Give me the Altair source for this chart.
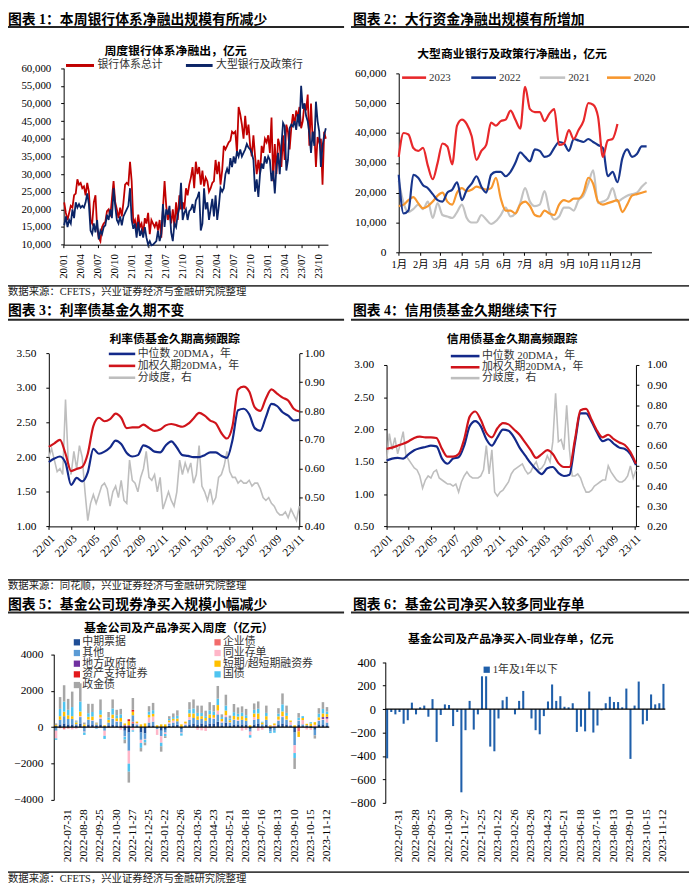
import altair as alt
import pandas as pd

FONT = "Liberation Serif, Noto Sans CJK SC"
W, H = 692, 882          # whole drawing area (svg px)


def sx(r):               # reference-page x -> drawing x
    return r - 3


def sy(r):               # reference-page y -> drawing y
    return r - 3


# ---------------- Panel 1: 周度银行体系净融出（亿元） ----------------
P1_START = "2020-01-04"
P1_TOTAL = [
    22000, 19000, 17000, 19000, 21000, 20500, 24000, 24500, 28500, 27000,
    27500, 26000, 26500, 24000, 27500, 25000, 17000, 16000, 22000, 24000,
    15000, 12000, 11000, 15000, 16000, 16500, 19500, 20000, 18000, 23000,
    28000, 22000, 20000, 17500, 20500, 18000, 22000, 27000, 27500, 27000,
    33500, 28000, 16000, 17000, 14000, 18500, 15000, 16000, 13000, 17500,
    16000, 19000, 13000, 17000, 16000, 15000, 16500, 14000, 17000, 12000,
    20000, 28000, 21000, 17000, 19500, 16000, 20000, 15000, 22000, 17000,
    24000, 20000, 22000, 20000, 26000, 24000, 27000, 29000, 32000, 26000,
    33500, 30000, 32000, 27000, 31000, 26500, 29000, 28000, 25000, 26000,
    27500, 28000, 34000, 30000, 33500, 27000, 31000, 38000, 37000, 38000,
    39000, 39500, 42000, 41500, 42000, 36000, 49000, 47000, 44000, 40000,
    46500, 41000, 44000, 38000, 35000, 41000, 35000, 30000, 34000, 30000,
    38000, 36000, 40000, 39000, 41000, 36000, 46000, 28000, 38500, 30000,
    40000, 38000, 32000, 41000, 34000, 44000, 42000, 37000, 43000, 47000,
    44000, 48000, 46000, 49000, 43000, 45000, 50000, 48000, 52500, 38000,
    50000, 40000, 42000, 32000, 40500, 39000, 40000, 27000, 42000, 40000,
]
P1_BIG = [
    15500, 18000, 15000, 17000, 16000, 20000, 17500, 22000, 20500, 21500,
    20500, 21000, 20500, 22000, 24500, 21500, 14000, 13000, 16000, 13500,
    17000, 11500, 14000, 13000, 15000, 15500, 18500, 17000, 20000, 17500,
    26000, 21000, 17000, 16000, 18000, 15500, 18000, 19000, 20000, 21000,
    26000, 17000, 14500, 16000, 12000, 16500, 12500, 14000, 12000, 15000,
    12000, 10000, 11000, 9800, 10000, 10500, 11000, 14000, 11000, 13000,
    21500, 15000, 20000, 18500, 21000, 13500, 11000, 16000, 15000, 18500,
    20500, 27500, 17000, 19000, 20000, 17000, 19500, 20000, 21500, 19000,
    22500, 23500, 25000, 14000, 16000, 26000, 20000, 22000, 17000, 20000,
    23000, 18000, 24000, 17000, 21000, 26000, 25000, 26000, 30000, 31500,
    30000, 34500, 32000, 35000, 33000, 36500, 35000, 37000, 35000, 36000,
    37000, 38500, 37500, 37000, 36000, 34000, 25000, 28500, 23500, 30000,
    33000, 31500, 35000, 33000, 35000, 34000, 28000, 31000, 24500, 32000,
    36000, 30000, 38000, 44500, 43500, 31000, 34000, 43000, 44000, 43500,
    45000, 42500, 47000, 43500, 55000, 48500, 50000, 46500, 45000, 41500,
    36000, 42000, 38000, 50500, 45000, 42000, 32000, 38000, 41000, 43000,
]
P1_NAMES = ["银行体系总计", "大型银行及政策行"]
P1_COLORS = ["#C00000", "#0B2466"]

# ---------------- Panel 2: 大型商业银行及政策行净融出 (weekly by year) ----------------
P2_2023 = [32000, 40000, 39500, 35000, 34000, 35000, 29000, 24500, 30000, 36500,
           35500, 29500, 42500, 44500, 43000, 39000, 31000, 34000, 36000, 43500,
           42500, 44000, 44500, 47500, 44500, 41500, 55500, 48000, 47000, 47000,
           44000, 46500, 48000, 36000, 36500, 41000, 38000, 41000, 44000, 50000,
           49500, 45500, 32000, 37500, 38000, 43000]
P2_2022 = [26000, 13000, 14000, 26000, 25000, 22500, 21500, 19500, 17500, 17000,
           20000, 21000, 23500, 17500, 21000, 23000, 25500, 22000, 20000, 26000,
           27000, 27000, 25500, 27000, 30000, 33500, 32000, 30500, 34500, 34000,
           32000, 32500, 35000, 37000, 36500, 34000, 38000, 37500, 37000, 38000,
           37000, 36000, 35000, 25500, 27000, 23500, 31500, 34500, 32000, 33000,
           35500, 35500]
P2_2021 = [24000, 16500, 13500, 14500, 16000, 14500, 17000, 11500, 16500, 12500,
           12000, 11500, 13500, 16000, 11500, 10000, 10000, 12500, 11000, 9500,
           10500, 12500, 15000, 12000, 13000, 16500, 21500, 17000, 15500, 16000,
           20500, 14000, 11000, 12000, 15000, 15000, 14000, 17500, 19000, 23000,
           27500, 16500, 17000, 18000, 21500, 17000, 18000, 19000, 19500, 20000,
           22000, 23500]
P2_2020 = [15500, 16000, 17500, 18500, 16500, 14800, 15500, 17000, 19000, 20000,
           17000, 16000, 20000, 21500, 20500, 21000, 22000, 21500, 21000, 21500,
           25000, 18000, 14000, 14000, 13000, 16000, 17000, 15500, 12500, 12000,
           14000, 13000, 12500, 16000, 17500, 17000, 18000, 18000, 20000, 25000,
           23000, 17000, 16000, 16500, 17000, 17500, 13500, 16000, 19000, 19500,
           20000, 20500]
P2_NAMES = ["2023", "2022", "2021", "2020"]
P2_COLORS = ["#E8282B", "#17358C", "#C3C3C3", "#F7972E"]

# ---------------- Panels 3 & 4: 基金久期高频跟踪 ----------------
DUR_NAMES = ["中位数 20DMA，年", "加权久期20DMA，年", "分歧度，右"]
DUR_COLORS = ["#13298A", "#D0141B", "#BEBEBE"]
P3_MED = [1.93, 1.98, 2.01, 1.92, 1.60, 1.70, 1.65, 1.78, 2.12, 2.05,
          2.08, 2.14, 2.24, 2.19, 2.06, 2.01, 2.03, 2.17, 2.14, 2.08,
          2.07, 2.17, 2.23, 2.14, 2.03, 2.02, 2.00, 2.00, 2.03, 2.07,
          2.07, 2.02, 1.99, 2.25, 2.68, 2.70, 2.62, 2.42, 2.38, 2.58,
          2.77, 2.74, 2.65, 2.60, 2.53, 2.54]
P3_WTD = [2.15, 2.20, 2.25, 2.05, 1.80, 1.83, 1.86, 2.05, 2.45, 2.57,
          2.52, 2.55, 2.63, 2.57, 2.42, 2.43, 2.43, 2.47, 2.42, 2.38,
          2.40, 2.46, 2.48, 2.46, 2.44, 2.48, 2.56, 2.64, 2.60, 2.53,
          2.49, 2.35, 2.27, 2.45, 2.98, 3.02, 2.95, 2.72, 2.67, 2.85,
          2.98, 2.92, 2.86, 2.82, 2.70, 2.66]
P3_DIV = [0.64, 0.67, 0.63, 0.59, 0.60, 0.58, 0.84, 0.62, 0.58, 0.66,
          0.60, 0.68, 0.64, 0.52, 0.42, 0.48, 0.51, 0.48, 0.51, 0.54,
          0.55, 0.53, 0.47, 0.52, 0.54, 0.50, 0.56, 0.49, 0.48, 0.63,
          0.56, 0.55, 0.52, 0.57, 0.60, 0.66, 0.57, 0.56, 0.58, 0.52,
          0.57, 0.46, 0.49, 0.52, 0.49, 0.47, 0.52, 0.63, 0.58, 0.62,
          0.59, 0.62, 0.55, 0.58, 0.68, 0.54, 0.52, 0.49, 0.53, 0.48,
          0.50, 0.57, 0.58, 0.61, 0.66, 0.59, 0.57, 0.57, 0.55, 0.56,
          0.55, 0.55, 0.56, 0.54, 0.55, 0.55, 0.53, 0.50, 0.49, 0.50,
          0.48, 0.47, 0.45, 0.44, 0.44, 0.45, 0.43, 0.46, 0.44, 0.42,
          0.47]
P4_MED = [1.52, 1.55, 1.56, 1.55, 1.62, 1.68, 1.71, 1.73, 1.75, 1.74,
          1.55, 1.47, 1.55, 1.57, 1.75, 2.05, 2.13, 2.05, 1.85, 1.75,
          1.88, 2.00, 1.98, 1.88, 1.72, 1.60, 1.48, 1.38, 1.31, 1.40,
          1.42, 1.33, 1.28, 1.30, 1.80, 2.25, 2.25, 2.12, 1.95, 1.82,
          1.85, 1.78, 1.72, 1.70, 1.62, 1.45]
P4_WTD = [1.70, 1.72, 1.75, 1.78, 1.82, 1.87, 1.89, 1.88, 1.88, 1.87,
          1.70, 1.58, 1.58, 1.62, 1.85, 2.20, 2.28, 2.15, 1.95, 1.88,
          2.02, 2.10, 2.08, 2.00, 1.92, 1.80, 1.68, 1.56, 1.62, 1.68,
          1.62, 1.48, 1.42, 1.42, 1.85, 2.30, 2.32, 2.15, 1.98, 1.88,
          1.92, 1.85, 1.80, 1.76, 1.65, 1.47]
P4_DIV = [0.52, 0.66, 0.58, 0.64, 0.56, 0.61, 0.67, 0.55, 0.53, 0.51,
          0.49, 0.48, 0.45, 0.39, 0.43, 0.45, 0.44, 0.47, 0.48, 0.44,
          0.43, 0.42, 0.41, 0.41, 0.40, 0.41, 0.37, 0.42, 0.45, 0.47,
          0.45, 0.44, 0.44, 0.44, 0.45, 0.48, 0.60, 0.46, 0.58, 0.37,
          0.35, 0.37, 0.38, 0.40, 0.42, 0.46, 0.48, 0.49, 0.50, 0.51,
          0.48, 0.46, 0.47, 0.50, 0.52, 0.48, 0.49, 0.51, 0.55, 0.52,
          0.62, 0.86, 0.62, 0.63, 0.58, 0.80, 0.58, 0.45, 0.45, 0.46,
          0.44, 0.40, 0.37, 0.37, 0.38, 0.40, 0.41, 0.42, 0.43, 0.43,
          0.50, 0.47, 0.45, 0.43, 0.42, 0.42, 0.43, 0.45, 0.50, 0.44,
          0.48]

# ---------------- Panels 5 & 6: 基金公司及产品净买入（周度，亿元） ----------------
WEEKS = [
    "2022-07-10", "2022-07-17", "2022-07-24", "2022-07-31", "2022-08-07", "2022-08-14", "2022-08-21", "2022-08-28",
    "2022-09-04", "2022-09-11", "2022-09-18", "2022-09-25", "2022-10-09", "2022-10-16", "2022-10-23", "2022-10-30",
    "2022-11-06", "2022-11-13", "2022-11-20", "2022-11-27", "2022-12-04", "2022-12-11", "2022-12-18", "2022-12-25",
    "2023-01-01", "2023-01-08", "2023-01-15", "2023-01-22", "2023-02-05", "2023-02-12", "2023-02-19", "2023-02-26",
    "2023-03-05", "2023-03-12", "2023-03-19", "2023-03-26", "2023-04-02", "2023-04-09", "2023-04-16", "2023-04-23",
    "2023-04-30", "2023-05-07", "2023-05-14", "2023-05-21", "2023-05-28", "2023-06-04", "2023-06-11", "2023-06-18",
    "2023-06-25", "2023-07-02", "2023-07-09", "2023-07-16", "2023-07-23", "2023-07-30", "2023-08-06", "2023-08-13",
    "2023-08-20", "2023-08-27", "2023-09-03", "2023-09-10", "2023-09-17", "2023-09-24", "2023-10-08", "2023-10-15",
    "2023-10-22", "2023-10-29", "2023-11-05", "2023-11-12",
]
WEEK_LABELS = ["2022-07-31", "2022-08-28", "2022-09-25", "2022-10-30", "2022-11-27", "2022-12-25",
               "2023-01-22", "2023-02-26", "2023-03-26", "2023-04-23", "2023-05-21", "2023-06-18",
               "2023-07-16", "2023-08-13", "2023-09-10", "2023-10-15", "2023-11-12"]
P5_MTN = [50, 150, 200, 150, 150, 100, 200, 50, 150, 150,
          100, 150, 50, 100, 150, 100, 100, -200, -300, 200,
          50, -300, -350, 100, 100, 0, -200, -150, 80, 100,
          120, -100, 50, 150, 200, 150, 200, 150, 200, 200,
          300, 100, 250, 100, 150, 150, 150, 150, -100, 150,
          200, 50, 150, -100, 0, 150, 200, 150, 50, -300,
          150, 50, 50, 50, -150, 150, 150, 100]
P5_CORP = [0, -50, -100, -75, 0, 0, 0, 0, 0, 0,
           0, 0, 0, 0, 0, 0, 0, 0, 0, 100,
           0, 0, 0, 0, 0, 0, 0, 0, 0, 0,
           0, 0, 0, 0, 0, -70, 0, 0, 0, 0,
           0, 0, 0, 0, 0, 0, 0, 0, 0, 0,
           0, 0, 0, 0, 0, 0, 0, 0, 0, 0,
           -240, 0, 0, 0, 0, 0, 0, 0]
P5_OTHER = [-200, 250, 400, 300, 300, 60, 350, -250, 250, 200,
            50, 300, -200, 150, 300, 200, 200, -300, -1000, 350,
            100, -400, -300, 150, 200, -110, -300, -150, 120, 150,
            200, -200, 80, 250, 300, 250, 250, 200, 300, 250,
            400, 150, 300, 150, 250, 200, 250, 200, -150, 250,
            250, 100, 250, -150, -200, 200, 350, 250, 60, -700,
            200, 100, 50, -50, -300, 200, 250, 150]
P5_LGB = [0, 0, 0, 0, 0, 0, 0, 0, 0, 0,
          0, 0, 0, 0, 0, 0, 0, 100, 100, 0,
          0, 0, 0, 0, 0, 0, 0, 0, 0, 0,
          0, 0, 0, 0, 0, 0, 0, 0, 0, 0,
          0, 0, 0, 0, 0, 0, 0, 0, 0, 0,
          0, 0, 0, 0, 0, 0, 0, 0, 0, 0,
          0, 0, 0, 0, 0, 0, 100, 100]
P5_CP = [60, 200, 250, 200, 150, 100, 250, 100, 150, 200,
         50, 150, 50, 150, 200, 150, 200, 100, 230, 200,
         80, 150, 200, 150, 150, 100, 150, 150, 100, 100,
         150, 150, 100, 200, 250, 200, 150, 150, 200, 150,
         300, 130, 250, 110, 200, 180, 200, 150, 100, 200,
         300, 100, 200, 50, 95, 180, 250, 200, 75, 100,
         -300, 115, 80, 150, 145, 150, 200, 150]
P5_ABS = [0, 0, 0, 0, 0, 0, 0, 0, 0, 0,
          0, 0, 0, 0, 0, 0, 0, 0, 100, 100,
          0, 0, 0, 0, 0, 0, 0, 0, 0, 0,
          0, 0, 0, 0, 0, 0, 0, 0, 0, 0,
          0, 0, 0, 0, 0, 0, 0, 0, 0, 0,
          0, 0, 0, 0, 0, 0, 0, 0, 0, 0,
          0, 0, 0, 0, 0, 0, 0, 0]
P5_TB = [-80, 400, 550, 300, 500, 50, 550, -135, 200, 250,
         -35, 250, -170, 130, 330, 165, 200, -165, -440, -70,
         0, -265, -155, 170, 200, 0, -190, -120, 75, 95,
         150, -125, 0, 215, 270, 180, 180, 100, 220, 195,
         350, 100, 270, 100, 205, 150, 190, 150, -140, 200,
         260, 50, 180, -80, -110, 150, 390, 165, 0, -275,
         140, 100, 0, 70, 0, 200, 250, 135]
P5_PB = [90, 650, 900, 600, 850, 50, 1000, 100, 515, 450,
         50, 585, 0, 300, 500, 300, 300, -200, -600, 650,
         0, -200, -150, 300, 400, 0, -300, -100, 150, 200,
         300, 0, 0, 400, 500, 400, 400, 300, 450, 350,
         700, 150, 600, 150, 450, 350, 350, 350, 0, 350,
         400, 0, 400, 0, 0, 300, 600, 400, 0, -600,
         250, 0, 0, 0, -180, 300, 370, 250]
# 同业存单（1年及1年以下）
P6_CD = [-420, -25, -45, -25, -125, -95, 55, -45, 15, 30,
         -65, 85, -280, -50, 40, 35, -145, -25, -710, -180,
         70, -175, -45, 280, 280, -320, -360, -80, 75, 105,
         0, -45, 70, 155, 0, -80, -180, -215, -60, 65,
         210, 70, 110, 20, 15, 50, -195, -150, -190, 150,
         -200, -140, -10, 50, 105, 60, 60, 15, 175, -425,
         30, 235, -130, -100, 125, 40, 50, 215]
P5_CATS = ["中期票据", "企业债", "其他", "同业存单", "地方政府债", "短期/超短期融资券", "资产支持证券", "国债", "政金债"]
P5_COLORS = ["#1F4E96", "#F26B6B", "#5B9BD5", "#FFB6C8", "#7030A0", "#FFC000", "#E31A1C", "#4FC4F0", "#A6A6A6"]
P6_NAME = "1年及1年以下"
P6_COLOR = "#1F5FAA"

HEADERS = ["图表 1：本周银行体系净融出规模有所减少", "图表 2：大行资金净融出规模有所增加",
           "图表 3：利率债基金久期不变", "图表 4：信用债基金久期继续下行",
           "图表 5：基金公司现券净买入规模小幅减少", "图表 6：基金公司净买入较多同业存单"]
TITLES = ["周度银行体系净融出，亿元", "大型商业银行及政策行净融出，亿元",
          "利率债基金久期高频跟踪", "信用债基金久期高频跟踪",
          "基金公司及产品净买入周度（亿元）", "基金公司及产品净买入-同业存单，亿元"]
NOTES = ["数据来源：CFETS，兴业证券经济与金融研究院整理",
         "数据来源：同花顺，兴业证券经济与金融研究院整理",
         "数据来源：CFETS，兴业证券经济与金融研究院整理"]

# ---------------- helpers ----------------
ONE = pd.DataFrame({"k": [0]})


def T(s, x, y, size=11, bold=False, align="left", color="#000"):
    return alt.Chart(ONE).mark_text(
        text=s, align=align, baseline="middle", font=FONT, fontSize=size,
        fontWeight="bold" if bold else "normal", color=color,
    ).encode(x=alt.value(sx(x)), y=alt.value(sy(y)))


def R(x1, x2, y, color="#262626", w=2.0):
    return alt.Chart(ONE).mark_rule(color=color, strokeWidth=w).encode(
        x=alt.value(sx(x1)), x2=alt.value(sx(x2)), y=alt.value(sy(y)))


def SQ(x, y, color):
    return alt.Chart(ONE).mark_square(size=40, color=color, opacity=1).encode(
        x=alt.value(sx(x)), y=alt.value(sy(y)))


def dt(y, m, d=1):
    return alt.DateTime(year=y, month=m, date=d)


def ax_bottom(ref_y, **kw):
    return alt.Axis(orient="bottom", offset=sy(ref_y) - H, labelOverlap=False, labelFlush=False, **kw)


def ax_left(ref_x, **kw):
    return alt.Axis(orient="left", offset=-sx(ref_x), labelOverlap=False, **kw)


def ax_right(ref_x, **kw):
    return alt.Axis(orient="right", offset=sx(ref_x) - W, labelOverlap=False, **kw)


def tstr(idx):
    return idx.strftime("%Y-%m-%dT%H:%M:%S")


# ---------------- Panel 1 ----------------
q_vals = [dt(y, m) for y in (2020, 2021, 2022, 2023) for m in (1, 4, 7, 10)]
x1 = alt.X("date:T", title=None,
           scale=alt.Scale(domain=[dt(2020, 1), dt(2023, 11, 20)], range=[sx(59.3), sx(326.7)], nice=False),
           axis=ax_bottom(237.3, values=q_vals, format="%y/%m", labelAngle=270, labelPadding=6, labelFontSize=11))
y1 = alt.Y("v:Q", title=None,
           scale=alt.Scale(domain=[10000, 60000], range=[sy(237.3), sy(58.7)], nice=False),
           axis=ax_left(59.3, values=list(range(10000, 60001, 5000)), format=",.0f", labelPadding=10, labelFontSize=11))
lines1 = []
for vals, col in zip([P1_TOTAL, P1_BIG], P1_COLORS):
    d = pd.DataFrame({"date": tstr(pd.date_range(P1_START, periods=len(vals), freq="212h")), "v": vals})
    lines1.append(alt.Chart(d).mark_line(color=col, strokeWidth=1.8).encode(x=x1, y=y1))
p1 = alt.layer(*lines1)

# ---------------- Panel 2 ----------------
x2 = alt.X("date:T", title=None,
           scale=alt.Scale(domain=[dt(2001, 1), dt(2001, 12, 31)], range=[sx(398.3), sx(654)], nice=False),
           axis=ax_bottom(245, values=[dt(2001, m) for m in range(1, 13)], format="%-m月", labelAngle=0,
                          labelPadding=4, labelFontSize=10.5))
y2 = alt.Y("v:Q", title=None,
           scale=alt.Scale(domain=[0, 60000], range=[sy(245), sy(64)], nice=False),
           axis=ax_left(398.3, values=list(range(0, 60001, 10000)), format=",.0f", labelPadding=10, labelFontSize=11.5))
year_data = {"2023": P2_2023, "2022": P2_2022, "2021": P2_2021, "2020": P2_2020}
lines2 = []
for name in ["2021", "2020", "2022", "2023"]:
    vals = year_data[name]
    d = pd.DataFrame({"date": tstr(pd.date_range("2001-01-01", periods=len(vals), freq="7D")), "v": vals})
    lines2.append(alt.Chart(d).mark_line(color=P2_COLORS[P2_NAMES.index(name)], strokeWidth=2.2,
                                         interpolate="monotone").encode(x=x2, y=y2))
p2 = alt.layer(*lines2)


# ---------------- Panels 3 & 4 ----------------
def dur_panel(med, wtd, div, x0, x1_, ytop, ybot, ylo, yhi, rlo, rhi, rpad):
    end = "2023-11-04"
    t = tstr(pd.date_range("2022-01-01", end, periods=len(med)))
    tg = tstr(pd.date_range("2022-01-01", end, periods=len(div)))
    xv = [dt(y, m) for y, m in [(2022, 1), (2022, 3), (2022, 5), (2022, 7), (2022, 9), (2022, 11),
                                 (2023, 1), (2023, 3), (2023, 5), (2023, 7), (2023, 9), (2023, 11)]]
    x = alt.X("date:T", title=None,
              scale=alt.Scale(domain=[dt(2022, 1), dt(2023, 11, 4)], range=[sx(x0), sx(x1_)], nice=False),
              axis=ax_bottom(ybot, values=xv, format="%y/%m", labelAngle=315, labelPadding=3, labelFontSize=11.5))
    ticks_l = [round(ylo + 0.5 * k, 2) for k in range(int(round((yhi - ylo) / 0.5)) + 1)]
    ticks_r = [round(rlo + 0.1 * k, 2) for k in range(int(round((rhi - rlo) / 0.1)) + 1)]
    yl = alt.Y("v:Q", title=None, scale=alt.Scale(domain=[ylo, yhi], range=[sy(ybot), sy(ytop)], nice=False),
               axis=ax_left(x0, values=ticks_l, format=".2f", labelPadding=10, labelFontSize=11.5))
    yr = alt.Y("v:Q", title=None, scale=alt.Scale(domain=[rlo, rhi], range=[sy(ybot), sy(ytop)], nice=False),
               axis=ax_right(x1_, values=ticks_r, format=".2f", labelPadding=rpad, labelFontSize=11.5))
    gray = alt.Chart(pd.DataFrame({"date": tg, "v": div})).mark_line(
        color=DUR_COLORS[2], strokeWidth=1.6).encode(x=x, y=yr)
    m1 = alt.Chart(pd.DataFrame({"date": t, "v": med})).mark_line(
        color=DUR_COLORS[0], strokeWidth=2.2, interpolate="monotone").encode(x=x, y=yl)
    m2 = alt.Chart(pd.DataFrame({"date": t, "v": wtd})).mark_line(
        color=DUR_COLORS[1], strokeWidth=2.2, interpolate="monotone").encode(x=x, y=yl)
    return alt.layer(gray, alt.layer(m1, m2)).resolve_scale(y="independent")


p3 = dur_panel(P3_MED, P3_WTD, P3_DIV, 44.3, 297.7, 347.3, 522.3, 1.0, 3.5, 0.4, 1.0, 2)
p4 = dur_panel(P4_MED, P4_WTD, P4_DIV, 386, 638.3, 359, 522.3, 0.5, 3.0, 0.2, 1.0, 8)

# ---------------- Panel 5 ----------------
series5 = [P5_MTN, P5_CORP, P5_OTHER, P6_CD, P5_LGB, P5_CP, P5_ABS, P5_TB, P5_PB]
rows = []
for o, (cat, arr) in enumerate(zip(P5_CATS, series5)):
    for wk, v in zip(WEEKS, arr):
        rows.append({"week": wk, "cat": cat, "v": v, "o": o})
df5 = pd.DataFrame(rows)
bars5 = alt.Chart(df5).mark_bar().encode(
    x=alt.X("week:O", title=None,
            scale=alt.Scale(domain=WEEKS, range=[sx(49.3), sx(328)], paddingInner=0.38, paddingOuter=0.25),
            axis=ax_bottom(799, values=WEEK_LABELS, domain=False, ticks=False, labelAngle=270,
                           labelPadding=9, labelFontSize=11.5)),
    y=alt.Y("v:Q", title=None, stack="zero",
            scale=alt.Scale(domain=[-4000, 4000], range=[sy(799), sy(651.7)], nice=False),
            axis=ax_left(49.3, values=[-4000, -2000, 0, 2000, 4000], format="d", labelPadding=8, labelFontSize=11.5)),
    color=alt.Color("cat:N", scale=alt.Scale(domain=P5_CATS, range=P5_COLORS), legend=None),
    order=alt.Order("o:Q", sort="ascending"),
)
zero5 = alt.Chart(ONE).mark_rule(color="#000", strokeWidth=1.2).encode(
    y=alt.datum(0), x=alt.value(sx(49.3)), x2=alt.value(sx(328)))
p5 = alt.layer(bars5, zero5)

# ---------------- Panel 6 ----------------
df6 = pd.DataFrame({"week": WEEKS, "v": P6_CD})
bars6 = alt.Chart(df6).mark_bar(color=P6_COLOR).encode(
    x=alt.X("week:O", title=None,
            scale=alt.Scale(domain=WEEKS, range=[sx(384.7), sx(668)], paddingInner=0.5, paddingOuter=0.2),
            axis=ax_bottom(802, values=WEEK_LABELS, domain=False, ticks=False, labelAngle=270,
                           labelPadding=6, labelFontSize=11.5)),
    y=alt.Y("v:Q", title=None,
            scale=alt.Scale(domain=[-800, 400], range=[sy(802), sy(659.7)], nice=False),
            axis=ax_left(384.7, values=list(range(-800, 401, 200)), format="d", labelPadding=7, labelFontSize=12.5)),
)
zero6 = alt.Chart(ONE).mark_rule(color="#000", strokeWidth=1.2).encode(
    y=alt.datum(0), x=alt.value(sx(384.7)), x2=alt.value(sx(668)))
p6 = alt.layer(bars6, zero6)

# ---------------- headers, titles, legends, notes ----------------
ann = []
for (hx, hy), txt in zip([(3, 10), (352, 10), (3, 304), (352, 304), (3, 601.7), (352, 601.7)], HEADERS):
    ann.append(T(txt, hx, hy, size=14, bold=True))
for x1r, x2r, yr_ in [(3, 343, 17), (350, 692, 17), (3, 343, 313.3), (350, 692, 313.3),
                      (3, 343, 609.3), (350, 692, 609.3)]:
    ann.append(R(x1r, x2r, yr_))
for (tx, ty), txt in zip([(172.5, 41.5), (513, 44), (171.7, 332.3), (513, 332.7), (175.8, 625.2), (511.7, 636.7)],
                         TITLES):
    ann.append(T(txt, tx, ty, size=12, bold=True, align="center"))
for yr_, (ny, txt) in zip([279, 576.5, 872], [(285.5, NOTES[0]), (582.5, NOTES[1]), (879, NOTES[2])]):
    ann.append(R(3, 692, yr_, color="#404040", w=1.8))
    ann.append(T(txt, 3, ny, size=10.5, color="#222"))

# legend panel 1
LEG1_Y = 56
for (lx1, lx2), name, col in zip([(61.7, 90), (183, 210)], P1_NAMES, P1_COLORS):
    ann.append(R(lx1, lx2, LEG1_Y, color=col, w=3))
    ann.append(T(name, lx2 + 3.5, LEG1_Y, size=11, color="#333"))
# legend panel 2
for (lx1, lx2), name, col in zip([(401.7, 426), (471.7, 496.7), (541, 566.7), (609, 633)], P2_NAMES, P2_COLORS):
    ann.append(R(lx1, lx2, 68.3, color=col, w=2.6))
    ann.append(T(name, lx2 + 3, 68.3, size=11, color="#333"))
# legends panels 3 & 4
for (lx1, lx2), rows_y in [((105, 131.7), (347.8, 359.9, 371.9)), ((451, 480), (350, 361.3, 372.3))]:
    for ly, name, col in zip(rows_y, DUR_NAMES, DUR_COLORS):
        ann.append(R(lx1, lx2, ly, color=col, w=2.6))
        ann.append(T(name, lx2 + 2.5, ly, size=11, color="#333"))
# legend panel 5 (two columns, row-major)
leg5_rows = [639.6, 650.4, 661.2, 672, 682.8]
for k, (name, col) in enumerate(zip(P5_CATS, P5_COLORS)):
    cx = 72.7 if k % 2 == 0 else 215
    cy = leg5_rows[k // 2]
    ann.append(SQ(cx, cy, col))
    ann.append(T(name, cx + 5.5, cy, size=11, color="#333"))
# legend panel 6
ann.append(SQ(487.3, 667.3, P6_COLOR))
ann.append(T(P6_NAME, 493.3, 667.3, size=11, color="#333"))

chart = alt.layer(p1, p2, p3, p4, p5, p6, *ann).resolve_scale(
    x="independent", y="independent", color="independent"
).properties(
    width=W, height=H, padding=0, background="white",
    autosize=alt.AutoSizeParams(type="none"),
).configure_view(stroke=None).configure_axis(
    labelFont=FONT, labelFontSize=11, labelColor="#000", domainColor="#000", tickColor="#000",
    tickSize=3, domainWidth=1, tickWidth=1, grid=False,
)

chart.save("out.html", embed_options={"renderer": "svg", "actions": False})
